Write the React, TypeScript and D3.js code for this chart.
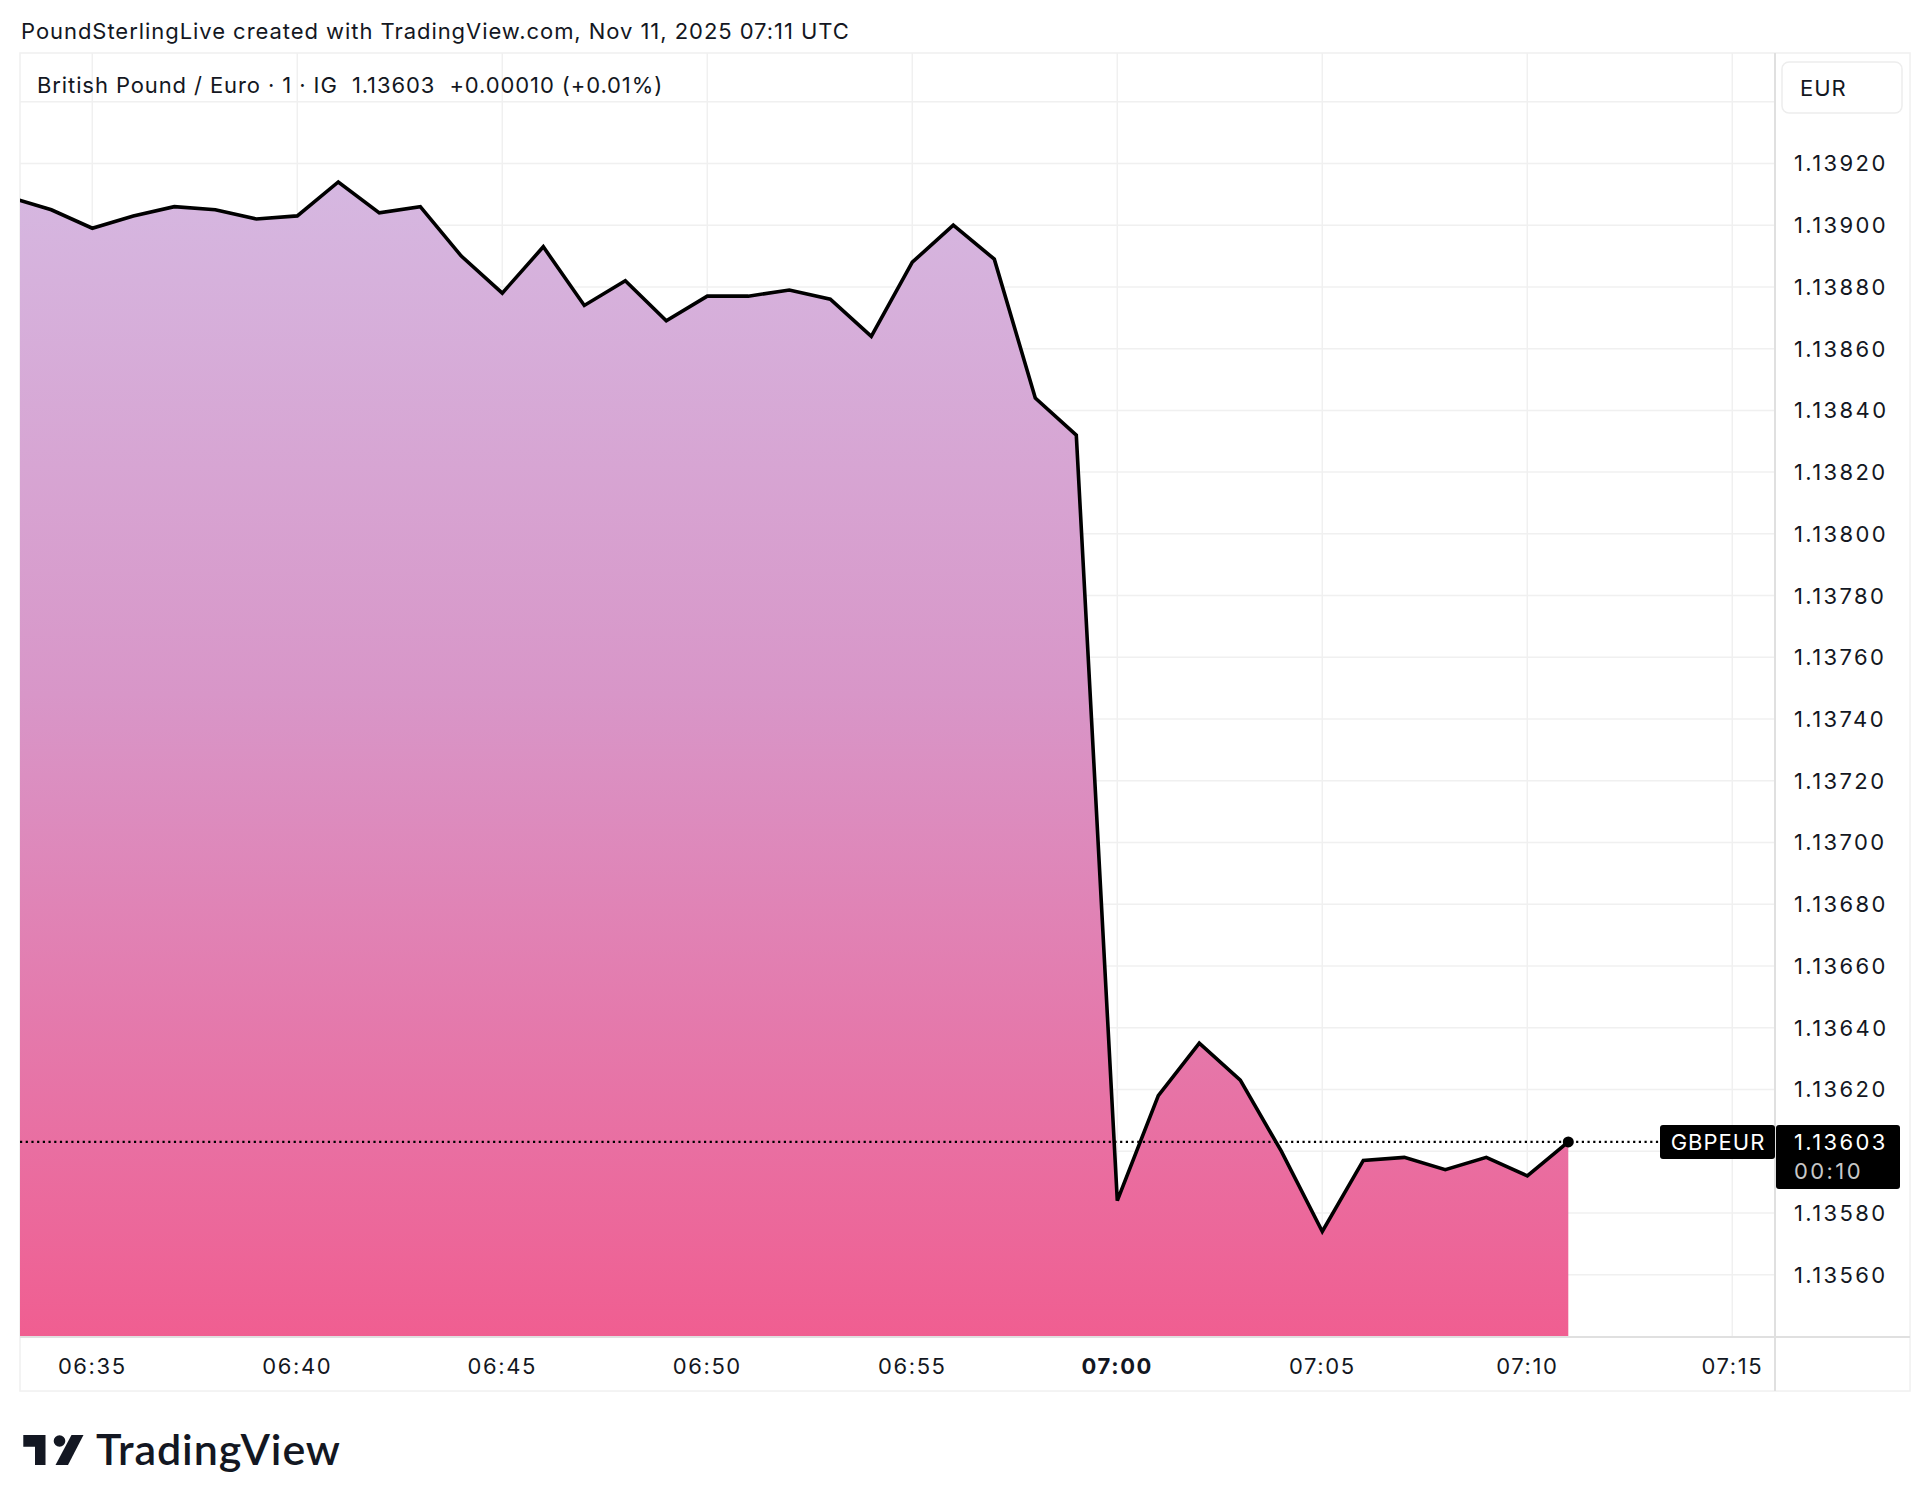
import React from "react";
import * as d3 from "d3";

const times = [
  "06:33","06:34","06:35","06:36","06:37","06:38","06:39","06:40","06:41","06:42",
  "06:43","06:44","06:45","06:46","06:47","06:48","06:49","06:50","06:51","06:52",
  "06:53","06:54","06:55","06:56","06:57","06:58","06:59","07:00","07:01","07:02",
  "07:03","07:04","07:05","07:06","07:07","07:08","07:09","07:10","07:11",
];
const prices = [
  1.13909,1.13905,1.13899,1.13903,1.13906,1.13905,1.13902,1.13903,1.13914,1.13904,
  1.13906,1.13890,1.13878,1.13893,1.13874,1.13882,1.13869,1.13877,1.13877,1.13879,
  1.13876,1.13864,1.13888,1.13900,1.13889,1.13844,1.13832,1.13584,1.13618,1.13635,
  1.13623,1.13600,1.13574,1.13597,1.13598,1.13594,1.13598,1.13592,1.13603,
];
const timeTicks = ["06:35","06:40","06:45","06:50","06:55","07:00","07:05","07:10","07:15"];
const priceTicks = [1.1356,1.1358,1.136,1.1362,1.1364,1.1366,1.1368,1.137,1.1372,1.1374,1.1376,1.1378,1.138,1.1382,1.1384,1.1386,1.1388,1.139,1.1392,1.1394];
const lastPrice = 1.13603;
const headerText = "PoundSterlingLive created with TradingView.com, Nov 11, 2025 07:11 UTC";
const legendText = "British Pound / Euro · 1 · IG  1.13603  +0.00010 (+0.01%)";

const toMin = (t: string) => {
  const [h, m] = t.split(":").map(Number);
  return h * 60 + m;
};

const W = 1930, H = 1512;
const L = 20, R = 1775, T = 53, B = 1336, FR = 1910, FB = 1391;
const FONT = "Inter, 'Noto Sans', sans-serif";
const TXT = "#131722";

export default function App() {
  const x = d3.scaleLinear().domain([toMin("06:35"), toMin("07:15")]).range([92.3, 1732.3]);
  const y = d3.scaleLinear().domain([1.1354, 1.1394]).range([1336.4, 101.7]);
  const data = times.map((t, i) => ({ t: toMin(t), v: prices[i] }));
  const line = d3.line<any>().x(d => x(d.t)).y(d => y(d.v));
  const area = d3.area<any>().x(d => x(d.t)).y0(B).y1(d => y(d.v));
  const last = data[data.length - 1];
  const ly = y(lastPrice);

  return (
    <svg width={W} height={H} style={{ position: "absolute", left: 0, top: 0, background: "#fff" }} fontFamily={FONT}>
      <defs>
        <linearGradient id="ag" gradientUnits="userSpaceOnUse" x1="0" y1={T} x2="0" y2={B}>
          <stop offset="0" stopColor="rgb(213,192,231)" />
          <stop offset="0.5" stopColor="rgb(216,150,200)" />
          <stop offset="1" stopColor="rgb(240,94,145)" />
        </linearGradient>
        <clipPath id="pc"><rect x={L} y={T} width={R - L} height={B - T} /></clipPath>
      </defs>
      <rect x={0} y={0} width={W} height={H} fill="#fff" />
      <text x={21} y={39} fontSize={22} letterSpacing={0.95} fill={TXT}>{headerText}</text>

      {/* frame */}
      <rect x={L} y={T} width={FR - L} height={FB - T} fill="none" stroke="#f0f0f0" strokeWidth={1.5} />

      {/* grid */}
      <g stroke="#f0f0f0" strokeWidth={1.5}>
        {priceTicks.map(p => (
          <line key={p} x1={L} x2={R} y1={y(p)} y2={y(p)} />
        ))}
        {timeTicks.map(t => (
          <line key={t} x1={x(toMin(t))} x2={x(toMin(t))} y1={T} y2={B} />
        ))}
      </g>

      <g clipPath="url(#pc)">
        <path d={area(data) || ""} fill="url(#ag)" />
        <path d={line(data) || ""} fill="none" stroke="#000" strokeWidth={3.6} strokeLinejoin="miter" />
      </g>
      <line x1={L} x2={1660} y1={ly} y2={ly} stroke="#000" strokeWidth={2.2} strokeDasharray="2.2 3.5" />
      <circle cx={x(last.t)} cy={y(last.v)} r={5.5} fill="#000" />

      {/* axes separators */}
      <line x1={L} x2={FR} y1={B + 1} y2={B + 1} stroke="#e0e0e0" strokeWidth={2} />
      <line x1={R} x2={R} y1={T} y2={FB} stroke="#e0e0e0" strokeWidth={2} />

      {/* legend */}
      <text x={37} y={93} fontSize={22} letterSpacing={0.9} fill={TXT} style={{ whiteSpace: "pre" }}>{legendText}</text>

      {/* EUR button */}
      <rect x={1782} y={62} width={120} height={51} rx={7} fill="#fff" stroke="#ededed" strokeWidth={1.5} />
      <text x={1800} y={96} fontSize={22} letterSpacing={1} fill={TXT}>EUR</text>

      {/* price labels */}
      {priceTicks.filter(p => p < 1.1393 && Math.abs(y(p) - ly) > 30).map(p => (
        <text key={p} x={1794} y={y(p)} dy="0.36em" fontSize={22} letterSpacing={2.4} fill={TXT}>{p.toFixed(5)}</text>
      ))}

      {/* time labels */}
      {timeTicks.map(t => (
        <text key={t} x={x(toMin(t))} y={1366} dy="0.36em" fontSize={22} letterSpacing={1.6} textAnchor="middle" fill={TXT} fontWeight={t === "07:00" ? 700 : 400}>{t}</text>
      ))}

      {/* last price tags */}
      <rect x={1660} y={ly - 17} width={115} height={34} rx={3} fill="#000" />
      <text x={1718} y={ly} dy="0.36em" fontSize={22} letterSpacing={1} fill="#fff" textAnchor="middle">GBPEUR</text>
      <rect x={1776} y={ly - 17} width={124} height={64} rx={3} fill="#000" />
      <text x={1794} y={ly} dy="0.36em" fontSize={22} letterSpacing={2.4} fill="#fff">{lastPrice.toFixed(5)}</text>
      <text x={1794} y={ly + 29} dy="0.36em" fontSize={22} letterSpacing={2.4} fill="#c8c8c8">00:10</text>

      {/* TradingView logo */}
      <g fill="#131722">
        <path d="M23.3,1435 H45.5 V1465 H35 V1446.7 H23.3 Z" />
        <circle cx={59.5} cy={1441} r={5.8} />
        <path d="M71.5,1435 H83.5 L68,1465 H55.5 Z" />
      </g>
      <text x={96} y={1465} fontSize={43} fontWeight={600} fill="#131722" fontFamily="Lato, Inter, sans-serif" letterSpacing={0.9}>TradingView</text>
    </svg>
  );
}
